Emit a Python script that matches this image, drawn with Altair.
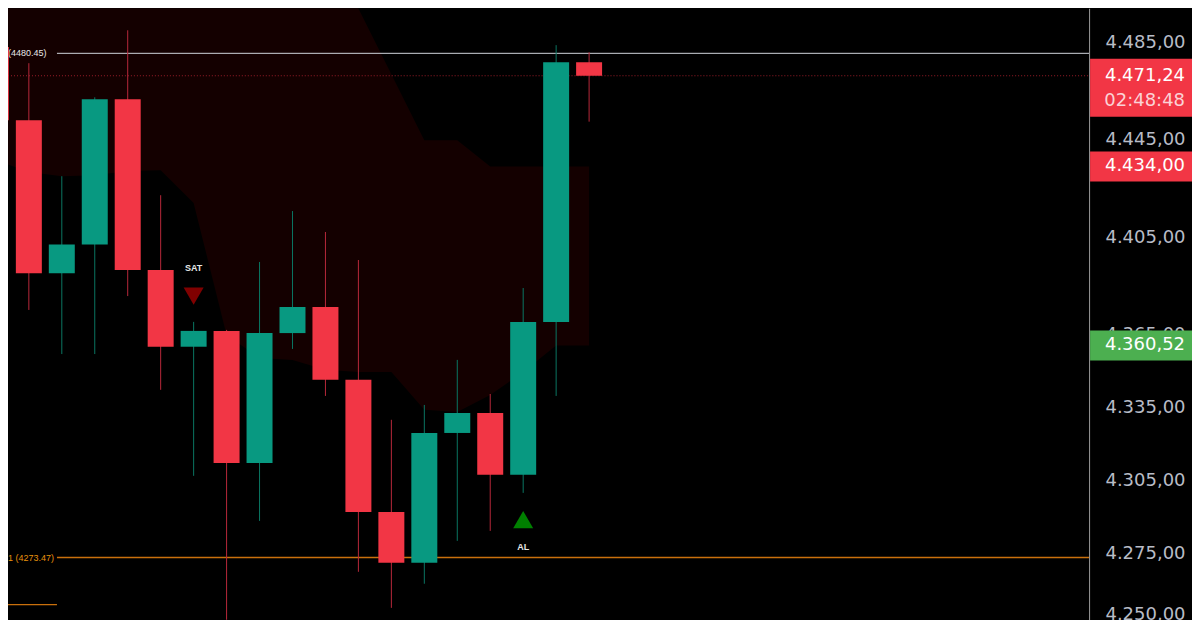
import altair as alt
import pandas as pd

# ---- candle data (bar index, OHLC) ----
bars = [1, 2, 3, 4, 5, 6, 7, 8, 9, 10, 11, 12, 13, 14, 15, 16, 17, 18, 19]
opens = [4483.0, 4453.0, 4390.2, 4402.0, 4461.6, 4391.5, 4360.0, 4366.5, 4312.3, 4365.6,
         4376.3, 4346.4, 4292.2, 4271.3, 4324.6, 4332.8, 4307.4, 4370.2, 4476.8]
closes = [4453.0, 4390.2, 4402.0, 4461.6, 4391.5, 4360.0, 4366.5, 4312.3, 4365.6, 4376.3,
          4346.4, 4292.2, 4271.3, 4324.6, 4332.8, 4307.4, 4370.2, 4476.8, 4471.24]
highs = [4492.0, 4476.4, 4430.0, 4462.4, 4489.9, 4422.2, 4370.2, 4366.9, 4394.8, 4415.7,
         4407.1, 4395.6, 4330.0, 4336.1, 4354.6, 4340.6, 4384.1, 4483.8, 4480.9]
lows = [4450.0, 4375.1, 4357.0, 4357.0, 4380.8, 4342.3, 4307.0, 4240.0, 4288.5, 4359.1,
        4339.8, 4267.6, 4252.8, 4262.7, 4280.3, 4284.4, 4300.0, 4339.8, 4452.4]

# ---- shaded band ----
band_upper = [4530.0, 4530.0, 4530.0, 4530.0, 4530.0, 4530.0, 4530.0, 4530.0, 4530.0, 4530.0,
              4530.0, 4498.9, 4471.9, 4444.8, 4444.8, 4434.0, 4434.0, 4434.0, 4434.0]
band_lower = [4436.6, 4431.7, 4430.0, 4430.4, 4432.1, 4432.5, 4419.0, 4364.8, 4355.4, 4354.6,
              4350.5, 4349.6, 4349.6, 4334.1, 4333.2, 4340.2, 4349.6, 4360.52, 4360.52]

# ---- signals ----
signal_bars = [7, 17]
signal_labels = ["SAT", "AL"]
signal_marker_prices = [4380.8, 4289.0]
signal_text_prices = [4392.3, 4277.9]

# ---- levels ----
white_level = [4480.45]
white_label = ["(4480.45)"]
orange_level = [4273.47]
orange_label = ["1 (4273.47)"]
orange_short_level = [4254.1]
last_price = [4471.24]

# ---- price tags ----
tag_last_price = [4471.24]
tag_last_text = ["4.471,24"]
tag_countdown = ["02:48:48"]
tag_upper_price = [4434.00]
tag_upper_text = ["4.434,00"]
tag_lower_price = [4360.52]
tag_lower_text = ["4.360,52"]

axis_ticks = [4250, 4275, 4305, 4335, 4365, 4405, 4445, 4485]

GREEN = "#089981"
RED = "#f23645"
ORANGE = "#c9700c"

xscale = alt.Scale(domain=[1.519, 34.02], nice=False, zero=False)
yscale = alt.Scale(domain=[4247.92, 4498.95], nice=False, zero=False)

label_expr = "replace(replace(replace(format(datum.value, ',.2f'), ',', '#'), '.', ','), '#', '.')"
yaxis = alt.Axis(orient="right", values=axis_ticks, labelExpr=label_expr, grid=False,
                 ticks=False, tickSize=0, labelPadding=96, labelAlign="right",
                 labelBaseline="middle", labelFlush=False, labelOverlap=False,
                 labelColor="#b8bcc6", labelFont="DejaVu Sans", labelFontSize=18,
                 domainColor="#9a9a9a", domainWidth=1, title=None)


def Y(field):
    return alt.Y(field, type="quantitative", scale=yscale, axis=yaxis, title=None)


def X(field):
    return alt.X(field, type="quantitative", scale=xscale, axis=None)


candles = pd.DataFrame({"bar": bars, "open": opens, "close": closes, "high": highs, "low": lows})
band = pd.DataFrame({"bar": bars, "upper": band_upper, "lower": band_lower})
signals = pd.DataFrame({"bar": signal_bars, "label": signal_labels,
                        "mprice": signal_marker_prices, "tprice": signal_text_prices})

band_layer = alt.Chart(band).mark_area(color="#140000", clip=True, interpolate="linear").encode(
    x=X("bar"), y=Y("upper"), y2="lower:Q",
)


def hline(price_list, color, x0, x1, dash=None, width=1):
    df = pd.DataFrame({"p": price_list})
    kw = dict(color=color, strokeWidth=width, clip=True)
    if dash:
        kw["strokeDash"] = dash
    return alt.Chart(df).mark_rule(**kw).encode(
        x=alt.value(x0), x2=alt.value(x1), y=Y("p"))


dotted = hline(last_price, "#9b1c28", 0, 1082, dash=[1, 2])
white_line = hline(white_level, "#d1d4dc", 49, 1082)
orange_line = hline(orange_level, ORANGE, 49, 1082, width=1.3)
orange_short = hline(orange_short_level, ORANGE, 0, 49, width=1.3)


def left_label(price_list, text_list, color):
    df = pd.DataFrame({"p": price_list, "t": text_list})
    return alt.Chart(df).mark_text(align="left", baseline="middle", font="Liberation Sans",
                                   fontSize=9, color=color).encode(
        x=alt.value(0), y=Y("p"), text="t:N")


white_text = left_label(white_level, white_label, "#e8e8e8")
orange_text = left_label(orange_level, orange_label, "#e8920c")

is_up = "datum.close >= datum.open"
wicks = alt.Chart(candles).mark_rule(strokeWidth=1, clip=True).encode(
    x=X("bar"), y=Y("low"), y2="high:Q",
    color=alt.condition(is_up, alt.value("#0a7562"), alt.value("#b8283a")),
)
bodies = alt.Chart(candles).mark_bar(size=26, clip=True).encode(
    x=X("bar"), y=Y("open"), y2="close:Q",
    color=alt.condition(is_up, alt.value(GREEN), alt.value(RED)),
)

sat_marker = alt.Chart(signals).transform_filter("datum.label == 'SAT'").mark_point(
    filled=True, size=400, opacity=1, shape="triangle-down", color="#800000").encode(
    x=X("bar"), y=Y("mprice"))
al_marker = alt.Chart(signals).transform_filter("datum.label == 'AL'").mark_point(
    filled=True, size=400, opacity=1, shape="triangle-up", color="#008000").encode(
    x=X("bar"), y=Y("mprice"))
signal_text = alt.Chart(signals).mark_text(font="Liberation Sans", fontSize=9, fontWeight="bold",
                                           color="#e6e6e6", baseline="middle").encode(
    x=X("bar"), y=Y("tprice"), text="label:N")


def tag(price_list, text_list, color, top, bottom):
    df = pd.DataFrame({"p": price_list, "t": text_list})
    base = alt.Chart(df)
    rect = base.mark_rect(color=color, yOffset=top, y2Offset=bottom).encode(
        x=alt.value(1083), x2=alt.value(1185), y=Y("p"), y2="p:Q")
    txt = base.mark_text(align="right", baseline="middle", font="DejaVu Sans", fontSize=18,
                         color="#ffffff").encode(
        x=alt.value(1178), y=Y("p"), text="t:N")
    return rect + txt


tag_last = tag(tag_last_price, tag_last_text, RED, -17, 41)
countdown = alt.Chart(pd.DataFrame({"p": tag_last_price, "t": tag_countdown})).mark_text(
    align="right", baseline="middle", font="DejaVu Sans", fontSize=18, color="#fbd2d6", dy=25).encode(
    x=alt.value(1178), y=Y("p"), text="t:N")
tag_up = tag(tag_upper_price, tag_upper_text, RED, -15, 15)
tag_low = tag(tag_lower_price, tag_lower_text, "#4caf50", -15, 15)

chart = alt.layer(
    band_layer, dotted, white_line, orange_line, orange_short, white_text, orange_text,
    wicks, bodies, sat_marker, al_marker, signal_text, tag_last, countdown, tag_up, tag_low,
).properties(width=1082, height=612, padding=0, background="#000000").configure_view(stroke=None)

chart.save("out.html", embed_options={"renderer": "svg", "actions": False})
